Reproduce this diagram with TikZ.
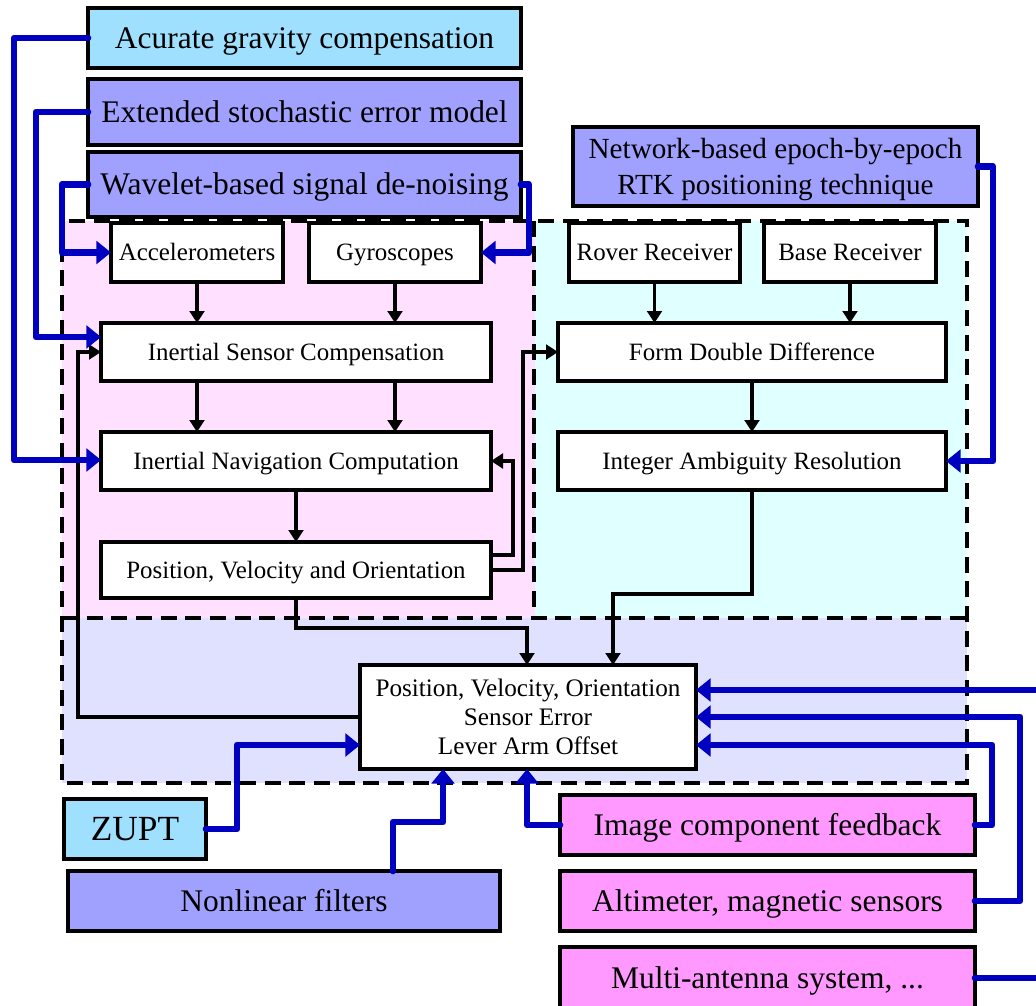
\documentclass[tikz,border=0pt]{standalone}
\usepackage{fontspec}
\setmainfont{Liberation Serif}
\usetikzlibrary{arrows.meta,calc}

\definecolor{skyfill}{RGB}{160,224,255}
\definecolor{periwinkle}{RGB}{160,160,255}
\definecolor{orchid}{RGB}{255,153,255}
\definecolor{pinkzone}{RGB}{255,224,255}
\definecolor{cyanzone}{RGB}{224,255,255}
\definecolor{lavzone}{RGB}{224,224,255}
\definecolor{linkblue}{RGB}{0,0,192}

% box given by its corners: name, x1, y1, x2, y2, style, text
\newcommand\cornerbox[7]{%
  \node[#6, minimum width={(#4-#2)*0.75pt}, minimum height={(#5-#3)*0.75pt}]
    (#1) at ({(#2+#4)/2},{(#3+#5)/2}) {#7};}

\begin{document}
\begin{tikzpicture}[x=0.75pt,y=-0.75pt,
  box/.style={draw=black, line width=2.4pt, inner sep=0pt, outer sep=0pt, align=center},
  unit/.style={box, fill=white, font=\fontsize{18.7}{21.6}\selectfont},
  oneline/.style={text height=12.4pt, text depth=0pt},
  topic/.style={box, font=\fontsize{23.6}{27}\selectfont, text height=15.6pt, text depth=0pt},
  flow/.style={line width=2.5pt, -{Triangle[length=9pt,width=11pt]}},
  feed/.style={draw=linkblue, line width=5pt, line join=round, line cap=round,
    -{Triangle[length=11pt,width=17pt]}},
  zone/.style={draw=black, line width=2.4pt, dash pattern=on 12pt off 6.5pt},
]
\useasboundingbox (0,0) rectangle (1036,1006);

% shaded zones
\fill[pinkzone] (62,221) rectangle (535,618);
\fill[cyanzone] (535,221) rectangle (967,618);
\fill[lavzone] (62,618) rectangle (967,783);
\draw[zone] (62,221) rectangle (967,783);
\draw[zone] (62,618) -- (967,618);
\draw[zone] (534,221) -- (534,618);

% enhancement boxes
\cornerbox{grav}{88}{8}{521}{68}{topic, fill=skyfill}{Acurate gravity compensation}
\cornerbox{ext}{88}{79}{521}{145}{topic, fill=periwinkle}{Extended stochastic error model}
\cornerbox{wav}{88}{152}{521}{217}{topic, fill=periwinkle}{Wavelet-based signal de-noising}
\cornerbox{net}{573}{127}{978}{206}{box, fill=periwinkle, font=\fontsize{21.9}{27}\selectfont, text depth=0pt}{Network-based epoch-by-epoch\\RTK positioning technique}
\cornerbox{zupt}{64}{799}{206}{859}{topic, fill=skyfill, font=\fontsize{26.5}{30}\selectfont, text height=17.5pt}{ZUPT}
\cornerbox{nlf}{68}{871}{500}{931}{topic, fill=periwinkle}{Nonlinear filters}
\cornerbox{img}{560}{795}{975}{855}{topic, fill=orchid}{Image component feedback}
\cornerbox{alt}{560}{871}{975}{931}{topic, fill=orchid}{Altimeter, magnetic sensors}
\cornerbox{multi}{560}{947}{975}{1010}{topic, fill=orchid}{Multi-antenna system, ...}

% inertial chain
\cornerbox{acc}{111}{223}{283}{282}{unit, oneline}{Accelerometers}
\cornerbox{gyr}{309}{223}{481}{282}{unit, oneline}{Gyroscopes}
\cornerbox{isc}{101}{323}{491}{381}{unit, oneline}{Inertial Sensor Compensation}
\cornerbox{inc}{101}{432}{491}{490}{unit, oneline}{Inertial Navigation Computation}
\cornerbox{pvo}{101}{542}{491}{598}{unit, oneline}{Position, Velocity and Orientation}

% GNSS chain
\cornerbox{rov}{569}{223}{740}{282}{unit, oneline}{Rover Receiver}
\cornerbox{bas}{764}{223}{936}{282}{unit, oneline}{Base Receiver}
\cornerbox{fdd}{558}{323}{946}{381}{unit, oneline}{Form Double Difference}
\cornerbox{iar}{558}{432}{946}{490}{unit, oneline}{Integer Ambiguity Resolution}

% integration filter
\cornerbox{est}{360}{665}{696}{769}{unit, font=\fontsize{18.9}{21.6}\selectfont}{Position, Velocity, Orientation\\Sensor Error\\Lever Arm Offset}

% black data flow
\draw[flow] (acc.south) -- (acc.south |- isc.north);
\draw[flow] (gyr.south) -- (gyr.south |- isc.north);
\draw[flow] (acc.south |- isc.south) -- (acc.south |- inc.north);
\draw[flow] (gyr.south |- isc.south) -- (gyr.south |- inc.north);
\draw[flow] (pvo.north |- inc.south) -- (pvo.north);
\draw[flow] ($(pvo.east)+(0,-15)$) -- ++(22,0) |- (inc.east);
\draw[flow] (pvo.east) -- ++(32,0) |- (fdd.west);
\draw[flow] (pvo.south) -- ++(0,30) -| ($(est.north)+(-1,0)$);
\draw[flow] (rov.south) -- (rov.south |- fdd.north);
\draw[flow] (bas.south) -- (bas.south |- fdd.north);
\draw[flow] (fdd.south) -- (iar.north);
\draw[flow] (iar.south) -- ++(0,104) -| ($(est.north)+(85,0)$);
\draw[flow] (est.west) -- ++(-282,0) |- (isc.west);

% blue aiding links
\draw[feed] (grav.west) -- ++(-74,0) |- ($(inc.west)+(0,-1)$);
\draw[feed] (ext.west) -- ++(-52,0) |- ($(isc.west)+(0,-15)$);
\draw[feed] (wav.west) -- ++(-26,0) |- (acc.west);
\draw[feed] (wav.east) -- ++(8,0) |- (gyr.east);
\draw[feed] (net.east) -- ++(15,0) |- (iar.east);
\draw[feed] (zupt.east) -- ++(31,0) |- ($(est.west)+(0,28)$);
\draw[feed] ($(nlf.north)+(109,0)$) -- ++(0,-49) -| ($(est.south)+(-85,0)$);
\draw[feed] (img.west) -| ($(est.south)+(-1,0)$);
\draw[feed] (img.east) -- ++(17,0) |- ($(est.east)+(0,28)$);
\draw[feed] (alt.east) -- ++(45,0) |- ($(est.east)+(0,0)$);
\coordinate (fromright) at (1042,690);
\coordinate (toright) at (1042,978);
\draw[feed] (fromright) -- (fromright -| est.east);
\draw[feed, -] (multi.east |- toright) -- (toright);
\end{tikzpicture}
\end{document}
